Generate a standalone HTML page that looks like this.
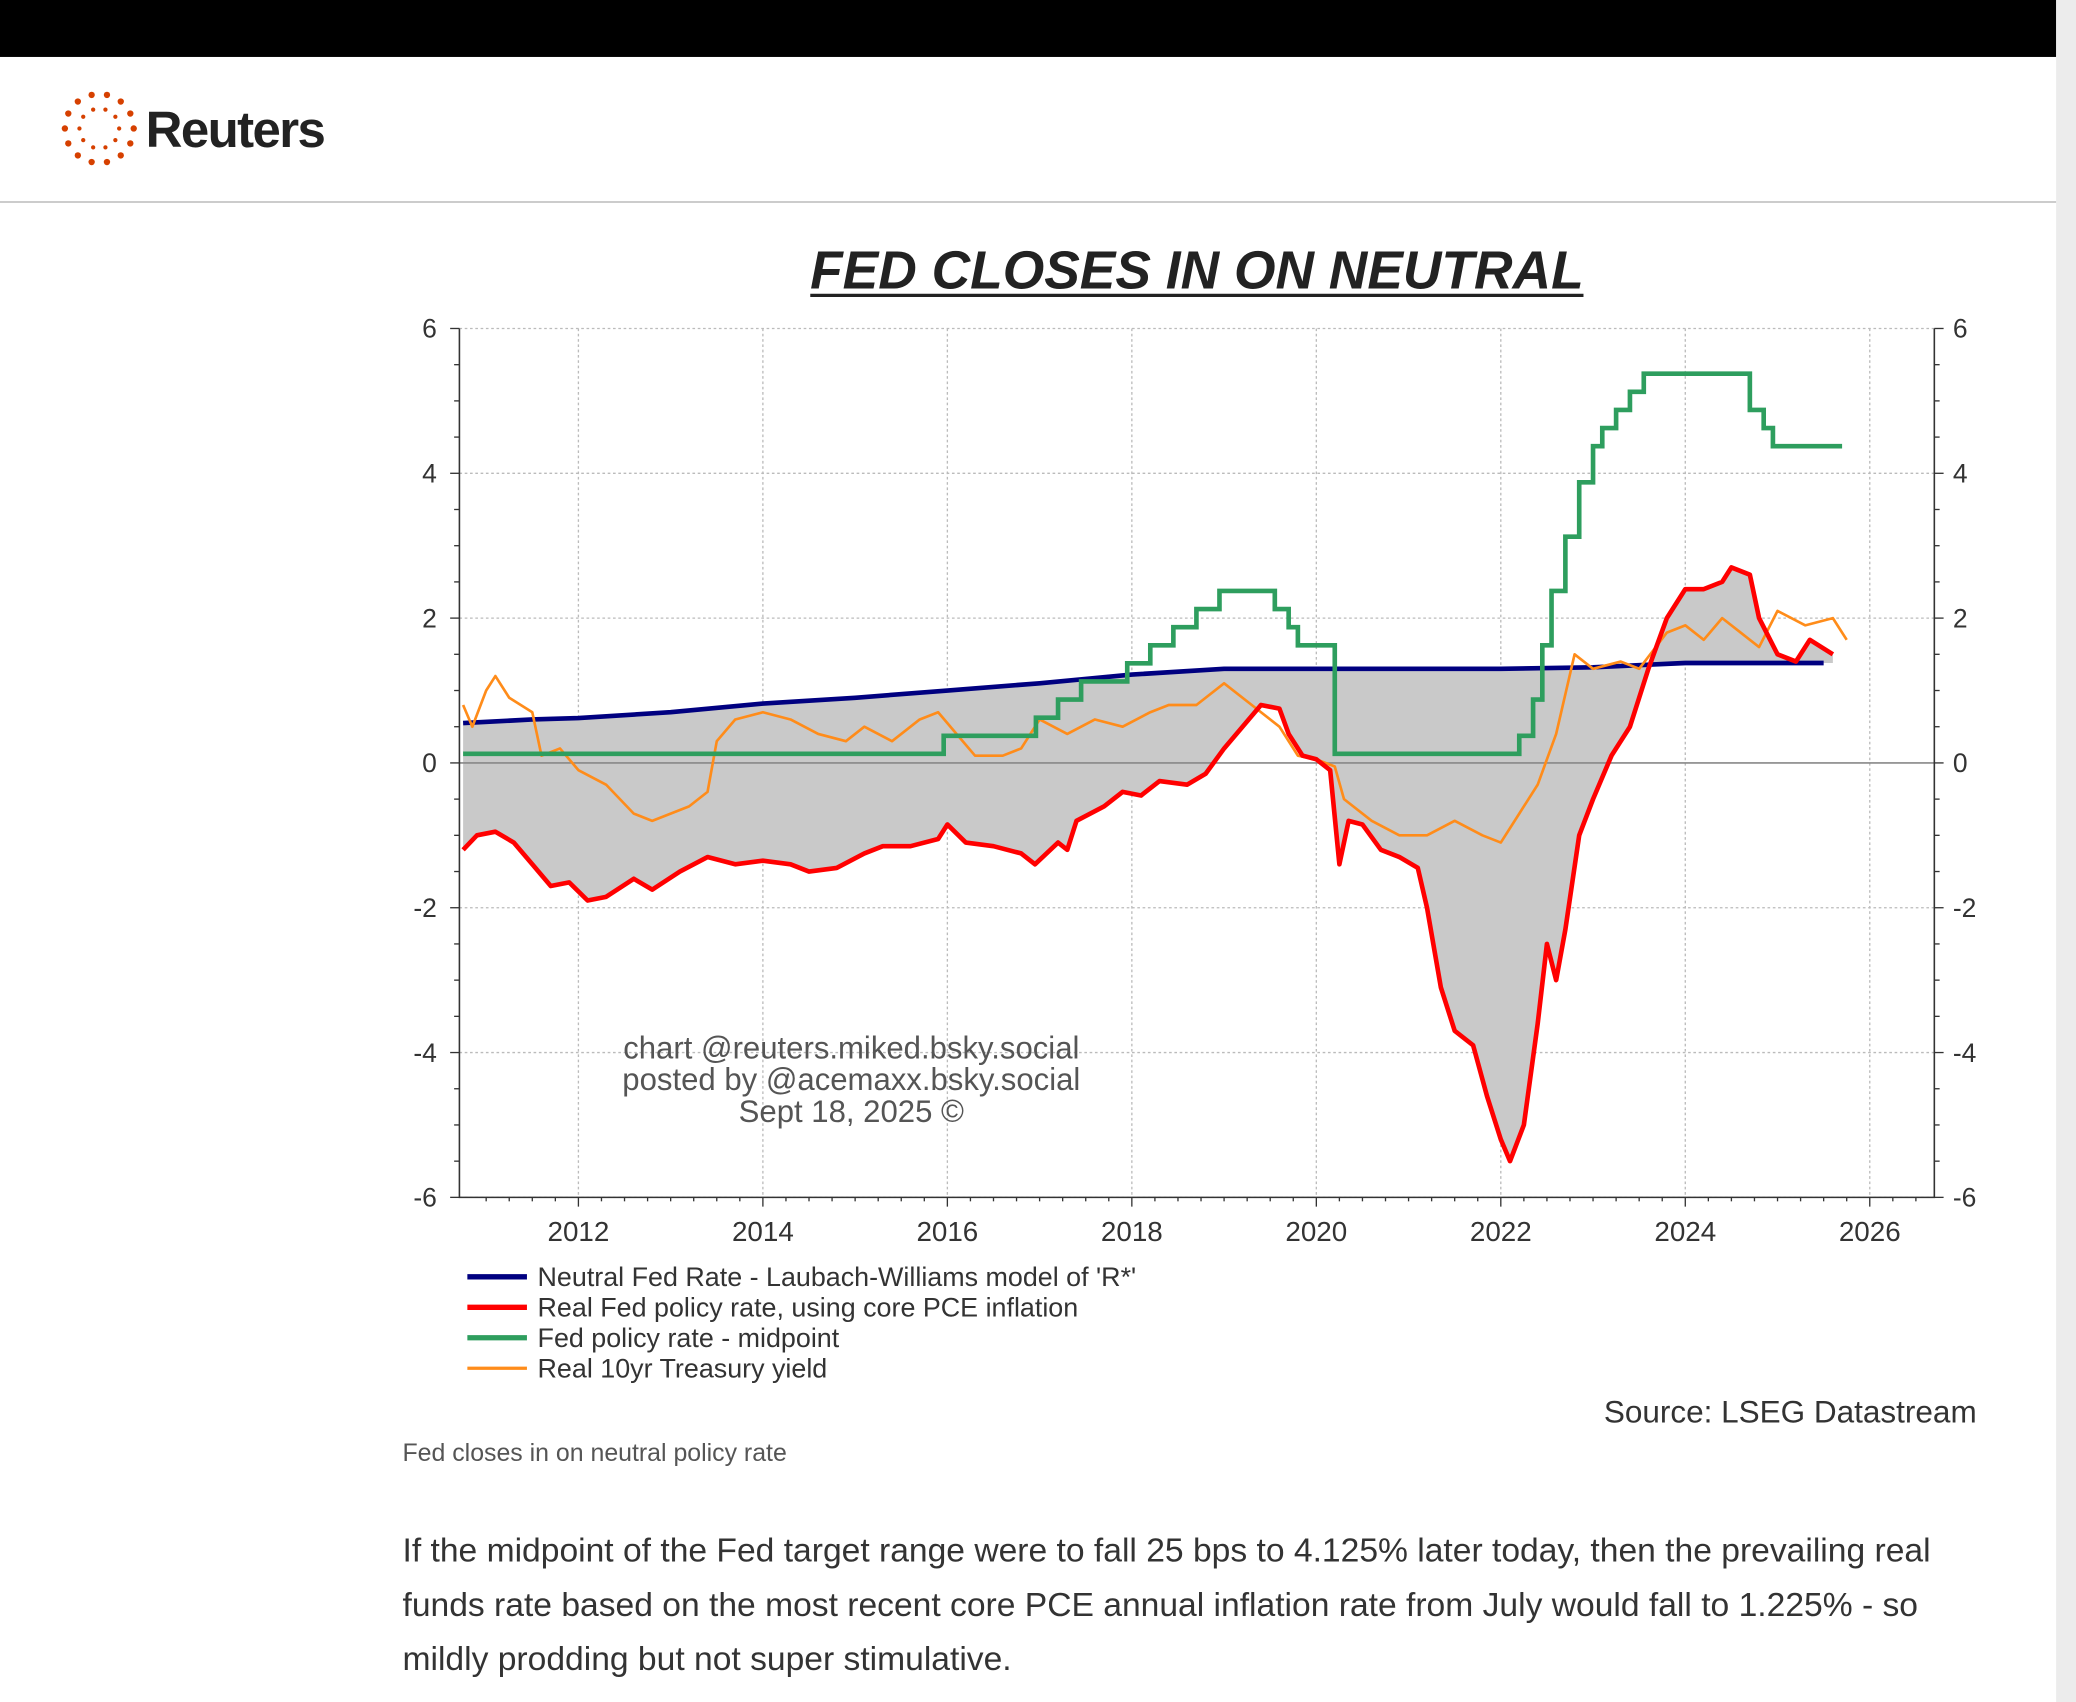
<!DOCTYPE html>
<html><head><meta charset="utf-8"><style>
html,body{margin:0;padding:0;background:#fff;}
svg{display:block;font-family:"Liberation Sans",Arial,sans-serif;}
</style></head><body>
<svg id="root" width="2076" height="1702" viewBox="0 0 1568 1285" preserveAspectRatio="none">
<rect x="0" y="0" width="1553" height="43" fill="#000"/>
<rect x="1553" y="0" width="15" height="1285" fill="#ececec"/>
<g id="logo"></g>
<text x="110" y="111" font-size="38.5" font-weight="bold" fill="#222" letter-spacing="-1.2">Reuters</text>
<line x1="0" y1="152.5" x2="1553" y2="152.5" stroke="#ccc" stroke-width="1.5"/>
<text x="904" y="218" font-size="40.3" font-weight="bold" font-style="italic" text-anchor="middle" fill="#222">FED CLOSES IN ON NEUTRAL</text>
<line x1="612" y1="223" x2="1196" y2="223" stroke="#222" stroke-width="2.5"/>
<g id="chart"></g>
<g font-size="20.3" fill="#333">
<line x1="353" y1="964" x2="398" y2="964" stroke="#000080" stroke-width="4"/>
<text x="406" y="971">Neutral Fed Rate - Laubach-Williams model of 'R*'</text>
<line x1="353" y1="987" x2="398" y2="987" stroke="#ff0000" stroke-width="4"/>
<text x="406" y="994">Real Fed policy rate, using core PCE inflation</text>
<line x1="353" y1="1010" x2="398" y2="1010" stroke="#2e9e5e" stroke-width="4"/>
<text x="406" y="1017">Fed policy rate - midpoint</text>
<line x1="353" y1="1033" x2="398" y2="1033" stroke="#ff8c1a" stroke-width="2.5"/>
<text x="406" y="1040">Real 10yr Treasury yield</text>
</g>
<text x="1493" y="1074" font-size="23.8" text-anchor="end" fill="#333">Source: LSEG Datastream</text>
<g font-size="23.5" fill="#555" text-anchor="middle">
<text x="643" y="799">chart @reuters.miked.bsky.social</text>
<text x="643" y="823">posted by @acemaxx.bsky.social</text>
<text x="643" y="847">Sept 18, 2025 ©</text>
</g>
<text x="304" y="1103" font-size="18.8" fill="#555">Fed closes in on neutral policy rate</text>
<g font-size="25.4" fill="#333">
<text x="304" y="1179">If the midpoint of the Fed target range were to fall 25 bps to 4.125% later today, then the prevailing real</text>
<text x="304" y="1220">funds rate based on the most recent core PCE annual inflation rate from July would fall to 1.225% - so</text>
<text x="304" y="1261">mildly prodding but not super stimulative.</text>
</g>
</svg>
<script>
const years=[2012,2014,2016,2018,2020,2022,2024,2026];
const yTicks=[6,4,2,0,-2,-4,-6];
const neutralX=[2010.75,2011.5,2012,2013,2014,2015,2016,2017,2018,2019,2020,2022,2023,2024,2025.5];
const neutralY=[0.55,0.6,0.62,0.7,0.82,0.9,1.0,1.1,1.22,1.3,1.3,1.3,1.32,1.38,1.38];
const fedDates=[2010.75,2015.96,2016.96,2017.2,2017.45,2017.95,2018.2,2018.45,2018.7,2018.95,2019.55,2019.7,2019.8,2020.2,2022.2,2022.35,2022.45,2022.55,2022.7,2022.85,2023.0,2023.1,2023.25,2023.4,2023.55,2024.7,2024.85,2024.95];
const fedLevels=[0.125,0.375,0.625,0.875,1.125,1.375,1.625,1.875,2.125,2.375,2.125,1.875,1.625,0.125,0.375,0.875,1.625,2.375,3.125,3.875,4.375,4.625,4.875,5.125,5.375,4.875,4.625,4.375];
const fedEnd=2025.7;
const realX=[2010.75,2010.9,2011.1,2011.3,2011.5,2011.7,2011.9,2012.1,2012.3,2012.6,2012.8,2013.1,2013.4,2013.7,2014.0,2014.3,2014.5,2014.8,2015.1,2015.3,2015.6,2015.9,2016.0,2016.2,2016.5,2016.8,2016.95,2017.2,2017.3,2017.4,2017.7,2017.9,2018.1,2018.3,2018.6,2018.8,2019.0,2019.2,2019.4,2019.6,2019.7,2019.85,2020.0,2020.15,2020.25,2020.35,2020.5,2020.7,2020.9,2021.1,2021.2,2021.35,2021.5,2021.7,2021.85,2022.0,2022.1,2022.25,2022.4,2022.5,2022.6,2022.7,2022.85,2023.0,2023.2,2023.4,2023.6,2023.8,2024.0,2024.2,2024.4,2024.5,2024.7,2024.8,2025.0,2025.2,2025.35,2025.6];
const realY=[-1.2,-1.0,-0.95,-1.1,-1.4,-1.7,-1.65,-1.9,-1.85,-1.6,-1.75,-1.5,-1.3,-1.4,-1.35,-1.4,-1.5,-1.45,-1.25,-1.15,-1.15,-1.05,-0.85,-1.1,-1.15,-1.25,-1.4,-1.1,-1.2,-0.8,-0.6,-0.4,-0.45,-0.25,-0.3,-0.15,0.2,0.5,0.8,0.75,0.4,0.1,0.05,-0.1,-1.4,-0.8,-0.85,-1.2,-1.3,-1.45,-2.0,-3.1,-3.7,-3.9,-4.6,-5.2,-5.5,-5.0,-3.6,-2.5,-3.0,-2.3,-1.0,-0.5,0.1,0.5,1.3,2.0,2.4,2.4,2.5,2.7,2.6,2.0,1.5,1.4,1.7,1.5];
const tenX=[2010.75,2010.85,2011.0,2011.1,2011.25,2011.5,2011.6,2011.8,2012.0,2012.3,2012.6,2012.8,2013.0,2013.2,2013.4,2013.5,2013.7,2014.0,2014.3,2014.6,2014.9,2015.1,2015.4,2015.7,2015.9,2016.1,2016.3,2016.6,2016.8,2017.0,2017.3,2017.6,2017.9,2018.2,2018.4,2018.7,2019.0,2019.3,2019.6,2019.8,2020.0,2020.2,2020.3,2020.6,2020.9,2021.2,2021.5,2021.8,2022.0,2022.2,2022.4,2022.6,2022.8,2023.0,2023.3,2023.5,2023.8,2024.0,2024.2,2024.4,2024.6,2024.8,2025.0,2025.3,2025.6,2025.75];
const tenY=[0.8,0.5,1.0,1.2,0.9,0.7,0.1,0.2,-0.1,-0.3,-0.7,-0.8,-0.7,-0.6,-0.4,0.3,0.6,0.7,0.6,0.4,0.3,0.5,0.3,0.6,0.7,0.4,0.1,0.1,0.2,0.6,0.4,0.6,0.5,0.7,0.8,0.8,1.1,0.8,0.5,0.1,0.05,-0.05,-0.5,-0.8,-1.0,-1.0,-0.8,-1.0,-1.1,-0.7,-0.3,0.4,1.5,1.3,1.4,1.3,1.8,1.9,1.7,2.0,1.8,1.6,2.1,1.9,2.0,1.7];
const NS='http://www.w3.org/2000/svg';
const X0=347,X1=1461,Y0=248,Y1=904,YR0=2010.71,YR1=2026.7;
const sx=v=>X0+(v-YR0)/(YR1-YR0)*(X1-X0);
const sy=v=>Y1-(v+6)/12*(Y1-Y0);
const chart=document.getElementById('chart');
function mk(tag,attrs,parent){const e=document.createElementNS(NS,tag);for(const k in attrs)e.setAttribute(k,attrs[k]);(parent||chart).appendChild(e);return e;}
years.forEach(y=>{const l=mk('line',{x1:sx(y),x2:sx(y),y1:Y0,y2:Y1,stroke:'#bbb','stroke-dasharray':'2,2'});

});
yTicks.forEach(v=>{if(v===0)return;const l=mk('line',{x1:X0,x2:X1,y1:sy(v),y2:sy(v),stroke:'#bbb','stroke-dasharray':'2,2'});

});
let pts=realX.map((x,i)=>sx(x)+','+sy(realY[i]));
const nX=neutralX.filter(x=>x<=2025.6).concat([2025.6]).reverse();
function interp(xs,ys,x){for(let i=0;i<xs.length-1;i++){if(x>=xs[i]&&x<=xs[i+1]){return ys[i]+(ys[i+1]-ys[i])*(x-xs[i])/(xs[i+1]-xs[i]);}}return ys[ys.length-1];}
nX.forEach(x=>pts.push(sx(x)+','+sy(interp(neutralX,neutralY,x))));
const fill=mk('polygon',{points:pts.join(' '),fill:'#c9c9c9'});


const zl=mk('line',{x1:X0,x2:X1,y1:sy(0),y2:sy(0),stroke:'#888','stroke-width':1.2});


const ax=mk('path',{d:`M${X0},${Y0}V${Y1}H${X1}V${Y0}`,fill:'none',stroke:'#333','stroke-width':1.2});


for(let v=-6;v<=6;v+=0.5){const major=v%2===0;const len=major?7:4;
mk('line',{x1:X0-len,x2:X0,y1:sy(v),y2:sy(v),stroke:'#333'});mk('line',{x1:X1,x2:X1+len,y1:sy(v),y2:sy(v),stroke:'#333'});}
for(let y=2011;y<=2026.6;y+=0.25){const major=Math.abs(y-Math.round(y))<1e-6&&Math.round(y)%2===0;mk('line',{x1:sx(y),x2:sx(y),y1:Y1,y2:Y1+(major?7:3),stroke:'#333'});}
yTicks.forEach(v=>{const t=mk('text',{x:X0-17,y:sy(v)+7,'font-size':20,'text-anchor':'end',fill:'#333'});t.textContent=v;


const r=mk('text',{x:X1+14,y:sy(v)+7,'font-size':20,fill:'#333'});r.textContent=v;

});
years.forEach(y=>{const t=mk('text',{x:sx(y),y:Y1+33,'font-size':21,'text-anchor':'middle',fill:'#333'});t.textContent=y;

});
function line(xs,ys,color,w,name){const p=mk('polyline',{points:xs.map((x,i)=>sx(x)+','+sy(ys[i])).join(' '),fill:'none',stroke:color,'stroke-width':w,'stroke-linejoin':'round'});

}
line(neutralX,neutralY,'#000080',3.5,'neutral-rate-line');
line(tenX,tenY,'#ff8c1a',2,'real-10yr-line');
let d='';fedDates.forEach((x,i)=>{const nx=i<fedDates.length-1?fedDates[i+1]:fedEnd;d+=(i?'V':'M'+sx(x)+',')+sy(fedLevels[i])+'H'+sx(nx);});
const fp=mk('path',{d:d,fill:'none',stroke:'#2e9e5e','stroke-width':3.5});


line(realX,realY,'#ff0000',3.5,'real-fed-line');
const logo=document.getElementById('logo');
[[26,14,2.4],[15,10,1.6]].forEach(([r,n,s])=>{for(let i=0;i<n;i++){const a=i/n*Math.PI*2;const c=mk('circle',{cx:75+r*Math.cos(a),cy:97+r*Math.sin(a),r:s,fill:'#d64000'},logo);

}});
</script>
</body></html>
